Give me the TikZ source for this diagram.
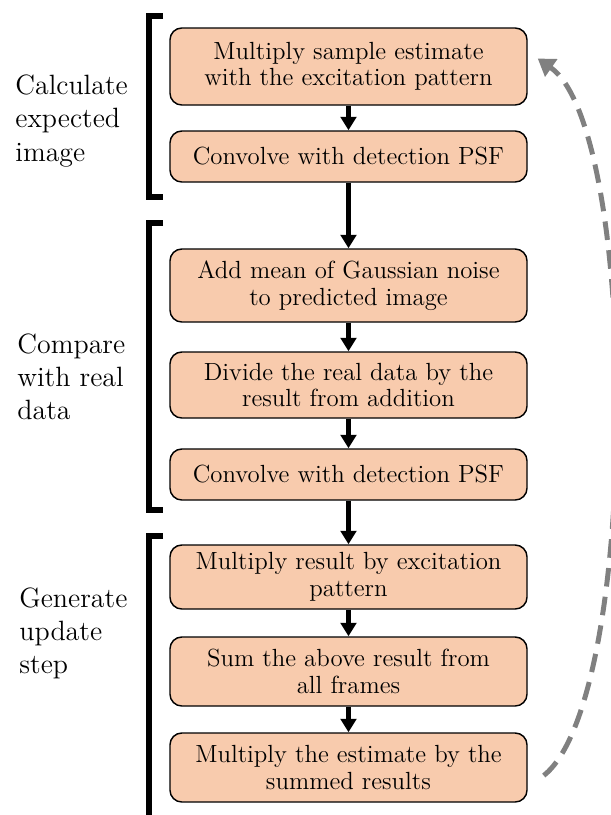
\documentclass[tikz,border=0pt]{standalone}
\usepackage{tikz}
\usetikzlibrary{arrows.meta}
\newcommand{\pu}{0.017cm}
\definecolor{boxfill}{RGB}{248,203,173}

\begin{document}
\begin{tikzpicture}[x=\pu,y=-\pu,
  sbox/.style={draw,line width=0.7pt,fill=boxfill,rounded corners=2mm,
    minimum width=357*\pu,align=center,inner sep=0,
    font=\fontsize{12}{12.8}\selectfont},
  flow/.style={-{Triangle[width=7.5pt,length=6.5pt]},line width=2pt},
  brk/.style={line width=2.9pt},
  grp/.style={anchor=west,align=left,inner sep=0,font=\fontsize{13.5}{16}\selectfont},
  fb/.style={gray,line width=2.4pt,dash pattern=on 9pt off 5pt,
    -{Triangle[width=10pt,length=8pt]}}]
\useasboundingbox (0,0) rectangle (611,815);
\clip (0,0) rectangle (611,815);
% steps
\node[sbox,minimum height=77*\pu] (m1) at (348.5,66.5) {Multiply sample estimate\\with the excitation pattern};
\node[sbox,minimum height=51*\pu] (m2) at (348.5,156.5) {Convolve with detection PSF};
\node[sbox,minimum height=73*\pu] (m3) at (348.5,285.5) {Add mean of Gaussian noise\\to predicted image};
\node[sbox,minimum height=66*\pu] (m4) at (348.5,385) {Divide the real data by the\\result from addition};
\node[sbox,minimum height=51*\pu] (m5) at (348.5,474.5) {Convolve with detection PSF};
\node[sbox,minimum height=64*\pu] (m6) at (348.5,577) {Multiply result by excitation\\pattern};
\node[sbox,minimum height=69*\pu] (m7) at (348.5,671.5) {Sum the above result from\\all frames};
\node[sbox,minimum height=69*\pu] (m8) at (348.5,767.5) {Multiply the estimate by the\\summed results};
\foreach \a/\b in {m1/m2,m2/m3,m3/m4,m4/m5,m5/m6,m6/m7,m7/m8}
  \draw[flow] (\a) -- (\b);
% groups
\draw[brk] (163,16) -- (149,16) -- (149,197) -- (163,197);
\draw[brk] (163,223) -- (149,223) -- (149,510) -- (163,510);
\draw[brk] (163,536) -- (149,536) -- (149,830);
\node[grp] (g1) at (15,121) {Calculate\\expected\\image};
\node[grp] (g2) at (17,377) {Compare\\with real\\data};
\node[grp] (g3) at (19,633) {Generate\\update\\step};
% loop back
\draw[fb] ([xshift=16*\pu,yshift=-8*\pu]m8.east) .. controls (640,700) and (640,130)
  .. ([xshift=10*\pu,yshift=8*\pu]m1.east);
\end{tikzpicture}
\end{document}
